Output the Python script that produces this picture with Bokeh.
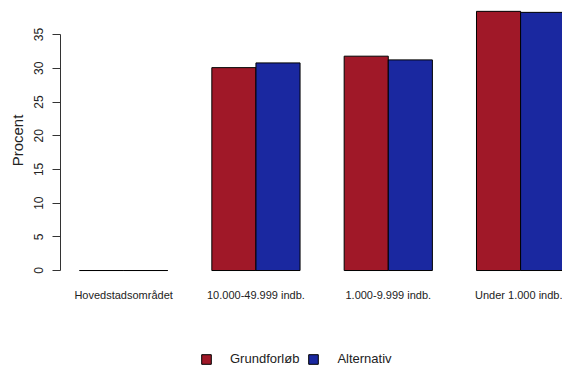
from bokeh.plotting import figure
from bokeh.layouts import column
from bokeh.models import Range1d, FixedTicker, Legend, LegendItem, ColumnDataSource
from bokeh.embed import file_html
from bokeh.resources import INLINE

# ---- data ----
categories = ["Hovedstadsområdet", "10.000-49.999 indb.", "1.000-9.999 indb.", "Under 1.000 indb."]
series = ["Grundforløb", "Alternativ"]
grundforloeb = [0.0, 30.1, 31.8, 38.45]
alternativ = [0.0, 30.8, 31.25, 38.3]
y_ticks = [0, 5, 10, 15, 20, 25, 30, 35]
y_label = "Procent"

colors = ["#A01828", "#1A28A0"]
FONT = "Liberation Sans"

# R barplot(beside=TRUE, space=c(0,1)) layout: each group = gap of 1 + 2 bars of width 1
group_step = 3
centers = [2 + group_step * i for i in range(len(categories))]

src = ColumnDataSource(dict(
    xg=[c - 0.5 for c in centers],
    xa=[c + 0.5 for c in centers],
    g=grundforloeb,
    a=alternativ,
))

p = figure(width=562, height=340, output_backend="svg", toolbar_location=None,
           x_range=Range1d(0.569, 11.95), y_range=Range1d(-1.48, 40.06),
           min_border_left=60, min_border_right=0, min_border_top=0, min_border_bottom=60)
p.outline_line_color = None
p.xgrid.visible = False
p.ygrid.visible = False
p.background_fill_color = "white"
p.border_fill_color = "white"

p.vbar(x="xg", top="g", bottom=0, width=1, source=src,
       fill_color=colors[0], line_color="black", line_width=1)
p.vbar(x="xa", top="a", bottom=0, width=1, source=src,
       fill_color=colors[1], line_color="black", line_width=1)

# y axis
ya = p.yaxis[0]
ya.ticker = FixedTicker(ticks=y_ticks)
ya.bounds = (0, 35)
ya.axis_line_color = "#333333"
ya.major_tick_line_color = "#333333"
ya.major_tick_out = 8
ya.major_tick_in = 0
ya.minor_tick_line_color = None
ya.major_label_orientation = "vertical"
ya.major_label_text_font = FONT
ya.major_label_text_font_size = "12px"
ya.major_label_text_color = "#222222"
ya.major_label_standoff = 9
ya.axis_label = y_label
ya.axis_label_text_font = FONT
ya.axis_label_text_font_size = "15px"
ya.axis_label_text_font_style = "normal"
ya.axis_label_text_color = "#222222"
ya.axis_label_standoff = 6

# x axis (category labels only)
xa = p.xaxis[0]
xa.ticker = FixedTicker(ticks=centers)
xa.major_label_overrides = {c: cat for c, cat in zip(centers, categories)}
xa.axis_line_color = None
xa.major_tick_line_color = None
xa.minor_tick_line_color = None
xa.major_label_text_font = FONT
xa.major_label_text_font_size = "11px"
xa.major_label_text_color = "#222222"
xa.major_label_standoff = 2

# legend strip below the chart (its own renderers fall outside its range, only the legend shows)
pl = figure(width=562, height=27, output_backend="svg", toolbar_location=None,
            x_range=Range1d(-2, -1), y_range=Range1d(-2, -1),
            x_axis_type=None, y_axis_type=None,
            min_border_left=60, min_border_right=0, min_border_top=0, min_border_bottom=0)
pl.outline_line_color = None
pl.xgrid.visible = False
pl.ygrid.visible = False
lg = pl.vbar(x="xg", top="g", bottom=0, width=1, source=src,
             fill_color=colors[0], line_color="black", line_width=1)
la = pl.vbar(x="xa", top="a", bottom=0, width=1, source=src,
             fill_color=colors[1], line_color="black", line_width=1)

legend = Legend(items=[LegendItem(label=series[0], renderers=[lg]),
                       LegendItem(label=series[1], renderers=[la])],
                orientation="horizontal", location=(140, 1),
                glyph_width=12, glyph_height=12, label_height=12,
                label_standoff=18, spacing=8, padding=0, margin=0,
                border_line_color=None, background_fill_alpha=0,
                label_text_font=FONT, label_text_font_size="13px",
                label_text_color="#222222")
pl.add_layout(legend, "center")

layout = column(p, pl, spacing=0)
open("out.html", "w").write(file_html(layout, INLINE))
